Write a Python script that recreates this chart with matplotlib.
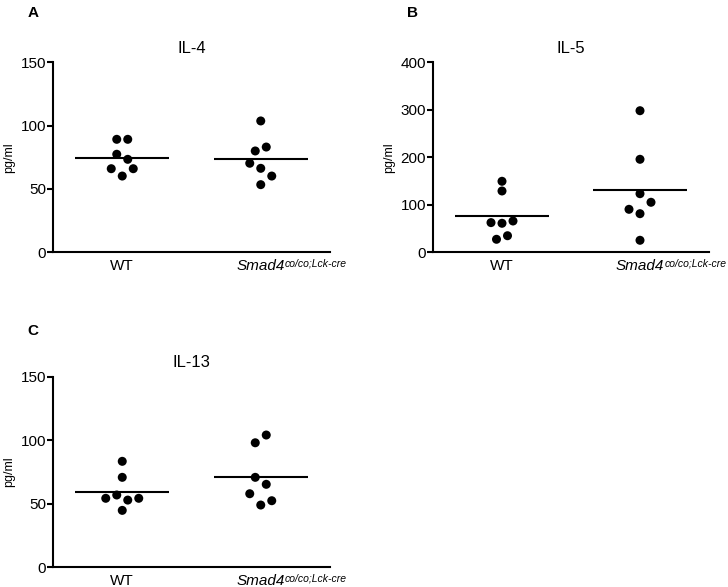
import numpy as np
import matplotlib
matplotlib.use('Agg')
import matplotlib.pyplot as plt

plt.rcParams['font.family'] = ['Liberation Sans', 'DejaVu Sans']

# values (pg/ml), listed in the order they sit left to right
groups = ['WT', 'Smad4']
sup_label = 'co/co;Lck-cre'

il4_wt = [89.2, 89.2, 77.4, 73.4, 66.0, 60.2, 66.0]
il4_ko = [103.7, 80.0, 83.1, 70.3, 66.3, 60.2, 53.4]
il5_wt = [149.5, 129.1, 62.5, 61.1, 65.9, 27.4, 34.9]
il5_ko = [298.1, 195.8, 123.4, 90.5, 81.3, 105.3, 25.3]
il13_wt = [83.4, 70.8, 54.3, 56.9, 52.9, 54.3, 44.8]
il13_ko = [98.0, 104.1, 70.8, 65.3, 57.9, 49.0, 52.4]

fig = plt.figure(figsize=(7.28, 5.87), dpi=100)
W, H = 728, 587


def swarm(values, px_y, px_x, gap_px=8.0, step_px=11.0):
    # stack points whose values are closer than one dot into a row, centre each row
    v = np.asarray(values)
    order = np.argsort(-v, kind='stable')
    rows = [[order[0]]]
    for prev, idx in zip(order[:-1], order[1:]):
        if (v[prev] - v[idx]) * px_y < gap_px:
            rows[-1].append(idx)
        else:
            rows.append([idx])
    off = np.zeros(len(v))
    for row in rows:
        row = sorted(row)
        n = len(row)
        for k, idx in enumerate(row):
            off[idx] = (k - (n - 1) / 2) * step_px / px_x
    return off


def panel(rect, letter, letter_xy, title, wt, ko, ymax, ystep):
    ax = fig.add_axes([rect[0] / W, (H - rect[3]) / H, (rect[2] - rect[0]) / W, (rect[3] - rect[1]) / H])
    ax.set_xlim(0.5, 2.5)
    ax.set_ylim(0, ymax)
    px_x = (rect[2] - rect[0]) / 2.0
    px_y = (rect[3] - rect[1]) / ymax
    for pos, vals in zip([1, 2], [wt, ko]):
        xs = pos + swarm(vals, px_y, px_x)
        ax.scatter(xs, vals, s=42, color='black', edgecolors='none', zorder=3, clip_on=False)
        ax.hlines(np.mean(vals), pos - 0.34, pos + 0.34, color='black', lw=1.5, zorder=2)
    for s in ['top', 'right']:
        ax.spines[s].set_visible(False)
    for s in ['left', 'bottom']:
        ax.spines[s].set_linewidth(1.5)
    ax.set_yticks(np.arange(0, ymax + 1, ystep))
    ax.tick_params(axis='y', direction='out', length=4, width=1.5, pad=1, labelsize=11)
    ax.tick_params(axis='x', length=0, pad=5, labelsize=11)
    ax.set_xticks([1, 2])
    ax.set_xticklabels(groups)
    lab = ax.get_xticklabels()[1]
    lab.set_style('italic')
    ax.annotate(sup_label, xy=(1.0, 1.08), xycoords=lab, ha='left', va='top',
                fontsize=7.5, style='italic')
    ax.set_ylabel('pg/ml', fontsize=9, labelpad=4)
    ax.set_title(title, fontsize=12, pad=7)
    fig.text(letter_xy[0] / W, 1 - letter_xy[1] / H, letter, fontsize=11,
             fontweight='bold', va='baseline')
    return ax


panel((53, 62.3, 330, 252.3), 'A', (28, 17), 'IL-4', il4_wt, il4_ko, 150, 50)
panel((433, 62.3, 709, 252.3), 'B', (407, 17), 'IL-5', il5_wt, il5_ko, 400, 100)
panel((53, 376.7, 330, 567.3), 'C', (27, 335), 'IL-13', il13_wt, il13_ko, 150, 50)

fig.savefig('out.png', dpi=100)
